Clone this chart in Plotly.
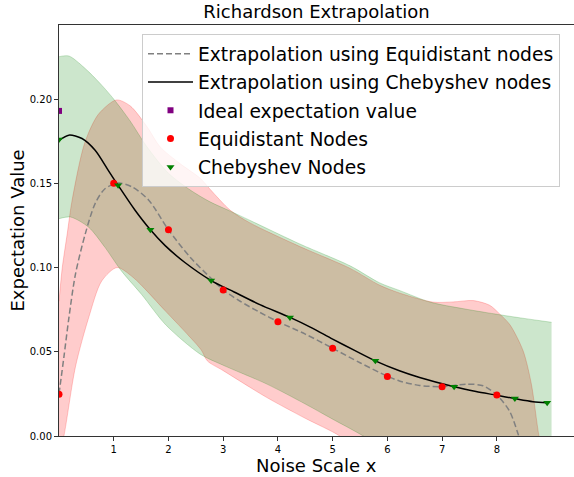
import plotly.graph_objects as go

# ---------------- data ----------------
# Extrapolation curve using equidistant nodes (dashed grey)
eq_curve_x = [0, 0.09, 0.18, 0.30, 0.48, 0.66, 0.84, 1.09, 1.34, 1.64, 2.0, 2.4, 2.76, 3.0,
              3.31, 3.67, 4.0, 4.5, 5.0, 5.5, 6.0, 6.22, 6.59, 7.0, 7.44, 7.75, 8.0, 8.23, 8.39, 8.5]
eq_curve_y = [0.025, 0.047, 0.070, 0.096, 0.120, 0.138, 0.1468, 0.1502, 0.1478, 0.140, 0.1224,
              0.106, 0.0942, 0.0867, 0.080, 0.0734, 0.0679, 0.0605, 0.0521, 0.0435, 0.0355,
              0.0327, 0.030, 0.0293, 0.0308, 0.0298, 0.0243, 0.0149, 0.001, -0.012]

# Extrapolation curve using Chebyshev nodes (solid black)
ch_curve_x = [0, 0.18, 0.42, 0.66, 0.9, 1.08, 1.39, 1.67, 1.94, 2.3, 2.78, 3.2, 3.67, 4.22,
              4.6, 5.0, 5.4, 5.78, 6.22, 6.59, 7.22, 7.62, 8.0, 8.33, 8.66, 8.92]
ch_curve_y = [0.1755, 0.1786, 0.1766, 0.1696, 0.1577, 0.1488, 0.134, 0.1224, 0.113, 0.103,
              0.0923, 0.0855, 0.078, 0.0704, 0.0645, 0.0575, 0.0508, 0.0446, 0.0387, 0.0347,
              0.0292, 0.0264, 0.0242, 0.0222, 0.0204, 0.0198]

# Ideal value
ideal_x = [0]
ideal_y = [0.193]

# Equidistant nodes (incl. extrapolated value at x=0)
eq_nodes_x = [0, 1, 2, 3, 4, 5, 6, 7, 8]
eq_nodes_y = [0.0248, 0.1500, 0.1224, 0.0867, 0.0679, 0.0521, 0.0353, 0.0293, 0.0243]

# Chebyshev nodes (incl. extrapolated value at x=0)
ch_nodes_x = [0, 1.08, 1.67, 2.78, 4.22, 5.78, 7.22, 8.33, 8.92]
ch_nodes_y = [0.176, 0.1488, 0.1224, 0.0923, 0.0704, 0.0446, 0.0292, 0.0222, 0.0198]

# Uncertainty band, equidistant (red)
red_up_x = [0, 0.06, 0.15, 0.24, 0.47, 0.72, 1.05, 1.3, 1.6, 1.85, 2.2, 2.58, 2.76, 3.13, 3.49,
            4.4, 5.32, 5.86, 6.23, 6.83, 7.2, 7.57, 7.87, 8.05, 8.24, 8.48, 8.63, 8.77, 8.9]
red_up_y = [0.080, 0.100, 0.120, 0.140, 0.174, 0.191, 0.1995, 0.196, 0.184, 0.1716, 0.162,
            0.153, 0.1465, 0.134, 0.1265, 0.1125, 0.0995, 0.0895, 0.0848, 0.0795, 0.0796,
            0.0804, 0.0776, 0.0725, 0.066, 0.0506, 0.031, 0.0, -0.02]
red_lo_x = [0, 0.09, 0.30, 0.54, 0.78, 1.06, 1.36, 1.95, 2.3, 2.6, 2.71, 3.0, 3.8, 4.5, 5.13,
            5.5, 6.5, 7.5, 8.9]
red_lo_y = [-0.012, 0.0, 0.041, 0.070, 0.092, 0.100, 0.094, 0.074, 0.062, 0.051, 0.0446,
            0.0388, 0.0228, 0.0105, 0.0, -0.01, -0.04, -0.06, -0.08]

# Uncertainty band, Chebyshev (green)
grn_up_x = [0, 0.18, 0.45, 0.76, 1.0, 1.3, 1.6, 2.0, 2.4, 2.76, 3.13, 3.49, 4.4, 5.32, 5.86,
            6.23, 6.78, 7.4, 8.05, 8.5, 9.0]
grn_up_y = [0.2252, 0.2256, 0.219, 0.209, 0.200, 0.187, 0.172, 0.156, 0.146, 0.139, 0.1335,
            0.128, 0.114, 0.101, 0.0909, 0.0863, 0.0795, 0.0755, 0.0720, 0.0698, 0.0675]
grn_lo_x = [0, 0.21, 0.54, 0.84, 1.14, 1.51, 1.95, 2.58, 3.0, 3.8, 4.5, 5.0, 5.56, 6.5, 7.5, 9.0]
grn_lo_y = [0.129, 0.130, 0.124, 0.112, 0.098, 0.084, 0.066, 0.0486, 0.042, 0.0308, 0.019,
            0.010, 0.0, -0.02, -0.04, -0.06]

x_ticks = [1, 2, 3, 4, 5, 6, 7, 8]
y_ticks = [0.0, 0.05, 0.10, 0.15, 0.20]

FONT = "DejaVu Sans"
W, H = 574, 477
L, R, T, B = 59, 0, 25, 41

fig = go.Figure()

# bands (red first, green on top)
fig.add_trace(go.Scatter(x=red_lo_x, y=red_lo_y, mode="lines", showlegend=False,
                         line=dict(color="rgba(255,0,0,0.2)", width=1, shape="spline", smoothing=0.8),
                         hoverinfo="skip"))
fig.add_trace(go.Scatter(x=red_up_x, y=red_up_y, mode="lines", showlegend=False, fill="tonexty",
                         fillcolor="rgba(255,0,0,0.2)",
                         line=dict(color="rgba(255,0,0,0.2)", width=1, shape="spline", smoothing=0.8),
                         hoverinfo="skip"))
fig.add_trace(go.Scatter(x=grn_lo_x, y=grn_lo_y, mode="lines", showlegend=False,
                         line=dict(color="rgba(0,128,0,0.2)", width=1, shape="spline", smoothing=0.8),
                         hoverinfo="skip"))
fig.add_trace(go.Scatter(x=grn_up_x, y=grn_up_y, mode="lines", showlegend=False, fill="tonexty",
                         fillcolor="rgba(0,128,0,0.2)",
                         line=dict(color="rgba(0,128,0,0.2)", width=1, shape="spline", smoothing=0.8),
                         hoverinfo="skip"))

# curves
fig.add_trace(go.Scatter(x=eq_curve_x, y=eq_curve_y, mode="lines", legendgroup="g1",
                         name="Extrapolation using Equidistant nodes",
                         line=dict(color="gray", width=1.5, dash="6px,3px", shape="spline", smoothing=0.8)))
fig.add_trace(go.Scatter(x=ch_curve_x, y=ch_curve_y, mode="lines", legendgroup="g2",
                         name="Extrapolation using Chebyshev nodes",
                         line=dict(color="black", width=1.5, shape="spline", smoothing=0.8)))

# markers
fig.add_trace(go.Scatter(x=ideal_x, y=ideal_y, mode="markers", name="Ideal expectation value",
                         legendgroup="g3", cliponaxis=True,
                         marker=dict(symbol="square", size=6, color="purple")))
fig.add_trace(go.Scatter(x=eq_nodes_x, y=eq_nodes_y, mode="markers", name="Equidistant Nodes",
                         legendgroup="g4", cliponaxis=True,
                         marker=dict(symbol="circle", size=7, color="red")))
fig.add_trace(go.Scatter(x=ch_nodes_x, y=ch_nodes_y, mode="markers", name="Chebyshev Nodes",
                         legendgroup="g5", cliponaxis=True,
                         marker=dict(symbol="triangle-down", size=7, color="green")))

pw = W - L - R
ph = H - T - B

fig.update_layout(
    width=W, height=H,
    margin=dict(l=L, r=R, t=T, b=B, autoexpand=False),
    paper_bgcolor="white", plot_bgcolor="white",
    font=dict(family=FONT, color="black"),
    title=dict(text="Richardson Extrapolation", x=0.5, xref="paper", xanchor="center",
               y=1 - 12 / H, yanchor="middle", font=dict(size=18, family=FONT, color="black")),
    legend=dict(x=(142 - L) / pw, y=(H - B - 34) / ph, xanchor="left", yanchor="top",
                bgcolor="rgba(255,255,255,0.8)", bordercolor="#cccccc", borderwidth=1,
                font=dict(size=18.7, family=FONT, color="black"), itemwidth=45,
                traceorder="grouped", tracegroupgap=1),
    showlegend=True,
    annotations=[
        dict(text="Noise Scale x", xref="paper", yref="paper", x=0.5, y=-(466 - (H - B)) / ph,
             xanchor="center", yanchor="middle", showarrow=False,
             font=dict(size=18, family=FONT, color="black")),
        dict(text="Expectation Value", xref="paper", yref="paper", x=-(L - 17) / pw, y=0.5,
             xanchor="center", yanchor="middle", showarrow=False, textangle=-90,
             font=dict(size=18, family=FONT, color="black")),
    ],
)
fig.update_xaxes(range=[0, 9.41], tickvals=x_ticks, ticktext=[str(v) for v in x_ticks],
                 automargin=False,
                 showgrid=False, zeroline=False, showline=True, linecolor="#333", linewidth=1,
                 mirror=True, ticks="outside", ticklen=4, tickcolor="#333",
                 tickfont=dict(size=10, family=FONT, color="black"))
fig.update_yaxes(range=[0, 0.244], tickvals=y_ticks, tickformat=".2f",
                 automargin=False,
                 showgrid=False, zeroline=False, showline=True, linecolor="#333", linewidth=1,
                 mirror=False, ticks="outside", ticklen=4, tickcolor="#333",
                 tickfont=dict(size=10, family=FONT, color="black"))

fig.write_html("out.html", config={"displayModeBar": False},
               post_script="document.body.style.margin='0';document.body.style.overflow='hidden';")
